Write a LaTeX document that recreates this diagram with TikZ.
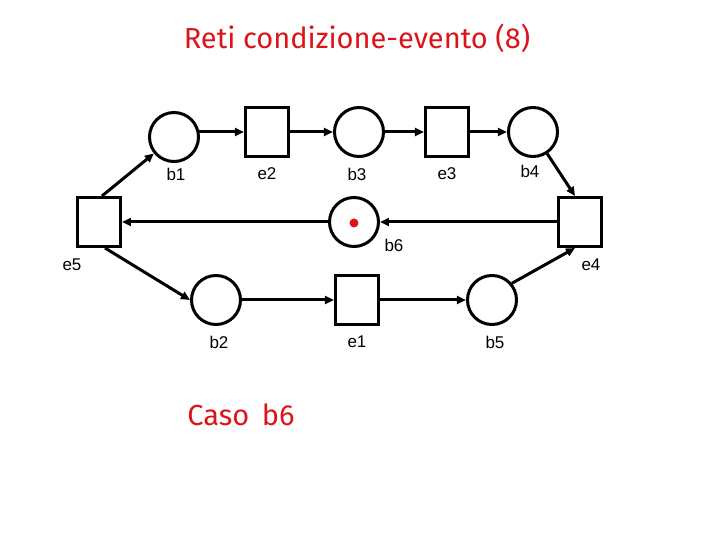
\documentclass[tikz,border=0pt]{standalone}
\usepackage{fontspec}
\setmainfont{Liberation Sans}
\newfontfamily\titlefont{Fira Sans}
\usetikzlibrary{arrows.meta}
\definecolor{tred}{RGB}{220,20,25}
\begin{document}
\begin{tikzpicture}[x=0.5pt,y=-0.5pt,
  place/.style={circle,draw,line width=1.5pt,minimum size=24.5pt,inner sep=0pt},
  trans/.style={rectangle,draw,line width=1.5pt,minimum width=21.5pt,minimum height=24.5pt,inner sep=0pt},
  arc/.style={line width=1.5pt,-{Triangle[length=4.5pt,width=4pt]}},
  lab/.style={font=\fontsize{8.5}{10}\selectfont},
  red text/.style={text=tred,font=\titlefont\fontsize{14.5}{17}\selectfont}]
\useasboundingbox (0,0) rectangle (720,540);
% nodes
\node[place] (b1) at (174,137) {};
\node[trans] (e2) at (267,132) {};
\node[place] (b3) at (359,132) {};
\node[trans] (e3) at (447,132) {};
\node[place] (b4) at (533,132) {};
\node[trans] (e5) at (99,222) {};
\node[place] (b6) at (354,222) {};
\node[trans] (e4) at (580,222) {};
\node[place] (b2) at (216,300) {};
\node[trans] (e1) at (357,300) {};
\node[place] (b5) at (492,300) {};
% token
\node[circle,fill=tred,minimum size=4.5pt,inner sep=0pt] (tok) at (354,223) {};
% labels
\node[lab] (lb1) at (176,174) {b1};
\node[lab] (le2) at (267,174) {e2};
\node[lab] (lb3) at (357,174) {b3};
\node[lab] (le3) at (447,174) {e3};
\node[lab] (lb4) at (530,171) {b4};
\node[lab] (lb6) at (394,245) {b6};
\node[lab] (le5) at (72,265) {e5};
\node[lab] (le4) at (591,265) {e4};
\node[lab] (lb2) at (219,342) {b2};
\node[lab] (le1) at (357,342) {e1};
\node[lab] (lb5) at (495,342) {b5};
% texts
\node[red text] (title) at (357,38) {Reti condizione-evento (8)};
\node[red text] (caso) at (241,415) {Caso\, b6};
% arcs
\draw[arc] (b1.east|-e2.west) ++(-0.6pt,0) -- (e2.west);
\draw[arc] (e2.east) -- (b3.west);
\draw[arc] (b3.east) -- (e3.west);
\draw[arc] (e3.east) -- (b4.west);
\draw[arc] (b4) -- ([xshift=-2.5pt]e4.north);
\draw[arc] (e4.west) -- (b6.east);
\draw[arc] (b6.west) -- (e5.east);
\draw[arc] ([xshift=1.5pt]e5.north) -- (b1);
\draw[arc] ([xshift=3pt]e5.south) -- (b2.west);
\draw[arc] (b2.east) -- (e1.west);
\draw[arc] (e1.east) -- (b5.west);
\draw[arc] (b5.40) -- ([xshift=-2.5pt]e4.south);
\end{tikzpicture}
\end{document}
